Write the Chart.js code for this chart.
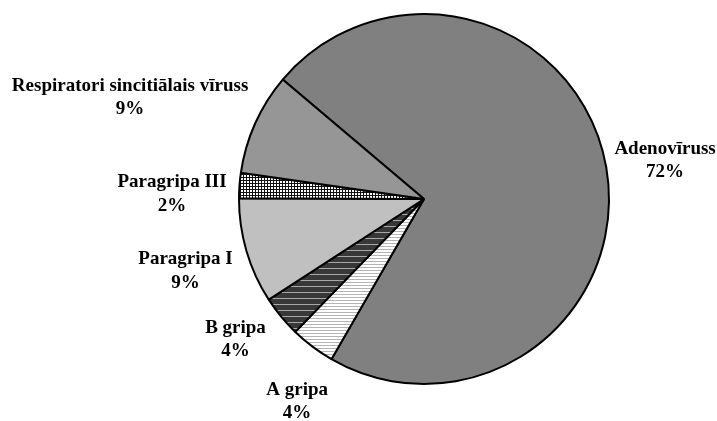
<!DOCTYPE html>
<html>
<head>
<meta charset="utf-8">
<script src="https://cdn.jsdelivr.net/npm/chart.js@4"></script>
<style>
  html, body { margin: 0; padding: 0; background: #fff; }
  #wrap { width: 717px; height: 421px; }
</style>
</head>
<body>
<div id="wrap"><canvas id="pieChart" width="717" height="421"></canvas></div>
<script>
const categories = ['Adenovīruss', 'A gripa', 'B gripa', 'Paragripa I', 'Paragripa III', 'Respiratori sincitiālais vīruss'];
const shares = [72.1, 3.9, 3.6, 9.2, 2.2, 8.9];

// small tiles for the Excel-like fill patterns
function makePattern(w, h, draw) {
  const c = document.createElement('canvas');
  c.width = w;
  c.height = h;
  const g = c.getContext('2d');
  draw(g);
  return g.createPattern(c, 'repeat');
}

const narrowHorizontal = makePattern(4, 3, g => {
  g.fillStyle = '#ffffff';
  g.fillRect(0, 0, 4, 3);
  g.fillStyle = '#b4b4b4';
  g.fillRect(0, 0, 4, 1);
});

const darkHorizontal = makePattern(6, 6, g => {
  g.fillStyle = '#383838';
  g.fillRect(0, 0, 6, 6);
  g.fillStyle = '#a8a8a8';
  g.fillRect(0, 4, 6, 1);
});

const smallGrid = makePattern(3, 3, g => {
  g.fillStyle = '#ffffff';
  g.fillRect(0, 0, 3, 3);
  g.fillStyle = '#111111';
  g.fillRect(0, 0, 3, 1);
  g.fillRect(0, 0, 1, 3);
});

const sliceFills = ['#808080', narrowHorizontal, darkHorizontal, '#c0c0c0', smallGrid, '#969696'];

// extra shift of each label box from its default spot outside the slice
const labelNudges = [[1, -1], [8, 30], [-16, 3], [-8, 11], [-5, 11], [-10, -13]];

const pieLabels = {
  id: 'pieLabels',
  afterDatasetsDraw(chart) {
    const ctx = chart.ctx;
    const meta = chart.getDatasetMeta(0);
    const total = shares.reduce((a, b) => a + b, 0);
    const lineH = 23.5;
    ctx.save();
    ctx.font = 'bold 19px "Liberation Serif", "Times New Roman", serif';
    ctx.fillStyle = '#000';
    ctx.textAlign = 'center';
    ctx.textBaseline = 'middle';
    meta.data.forEach((arc, i) => {
      const { x, y, startAngle, endAngle, outerRadius } = arc.getProps(['x', 'y', 'startAngle', 'endAngle', 'outerRadius'], true);
      const mid = (startAngle + endAngle) / 2;
      const cos = Math.cos(mid), sin = Math.sin(mid);
      const lines = [categories[i], Math.round(shares[i] / total * 100) + '%'];
      const w = Math.max(...lines.map(t => ctx.measureText(t).width));
      const h = lines.length * lineH;
      const px = x + (outerRadius + 8) * cos;
      const py = y + (outerRadius + 8) * sin;
      const cx = px + w / 2 * cos + labelNudges[i][0];
      const cy = py + h / 2 * sin + labelNudges[i][1];
      lines.forEach((t, k) => ctx.fillText(t, cx, cy + (k - (lines.length - 1) / 2) * lineH));
    });
    ctx.restore();
  }
};

const ctx = document.getElementById('pieChart').getContext('2d');

new Chart(ctx, {
  type: 'pie',
  data: {
    labels: categories,
    datasets: [{
      data: shares,
      backgroundColor: sliceFills,
      borderColor: '#000',
      borderWidth: 2
    }]
  },
  options: {
    responsive: false,
    animation: false,
    events: [],
    rotation: 310.2,
    layout: { padding: { left: 238, right: 107, top: 13, bottom: 36 } },
    plugins: {
      legend: { display: false },
      tooltip: { enabled: false }
    }
  },
  plugins: [pieLabels]
});
</script>
</body>
</html>
